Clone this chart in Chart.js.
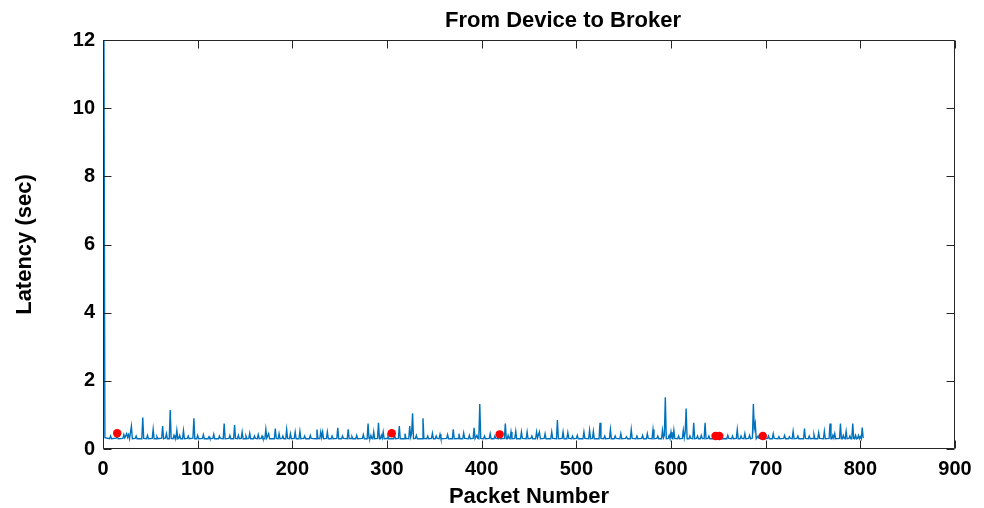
<html>
    <head>
        <meta charset="utf8">
        <title>From Device to Broker</title>
    </head>
    <style>
        body{margin:0;background:#fff}
        #LatencyChart{display:block}
    </style>
    <body>
        <canvas id="LatencyChart" width="984" height="508"></canvas>
    </body>
    <script type="text/javascript" src="https://cdn.jsdelivr.net/npm/chart.js@4.4.1/dist/chart.umd.min.js"></script>
    <script>
        // packet number / latency (sec)
        var packetNo=[1, 2, 7, 8, 9, 14, 15, 16,
            21, 22, 23, 25, 26, 27, 28, 30, 31,
            34, 35, 36, 41, 42, 43, 46, 47, 48,
            52, 53, 54, 56, 57, 58, 62, 63, 64,
            66, 67, 68, 70, 71, 72, 74, 75, 76,
            77, 78, 79, 80, 81, 82, 84, 85, 86,
            89, 90, 91, 95, 96, 97, 99, 100, 101,
            105, 106, 107, 111, 112, 113, 116, 117, 118,
            122, 123, 124, 127, 128, 129, 133, 134, 135,
            138, 139, 140, 142, 143, 144, 146, 147, 148,
            150, 151, 152, 154, 155, 156, 159, 160, 161,
            163, 164, 165, 167, 168, 169, 171, 172, 173, 175, 176,
            181, 182, 183, 185, 186, 187, 189, 190, 191,
            193, 194, 195, 197, 198, 199, 202, 203, 204,
            207, 208, 209, 212, 213, 214, 218, 219, 220,
            225, 226, 227, 229, 230, 231, 232, 233,
            236, 237, 238, 241, 242, 243, 247, 248, 249,
            252, 253, 254, 258, 259, 260, 262, 263, 264,
            267, 268, 269, 274, 275, 276, 279, 280, 281,
            282, 283, 284, 285, 286, 287, 290, 291, 292,
            293, 294, 295, 296, 297, 300, 301, 302,
            307, 308, 309, 312, 313, 314, 318, 319, 320,
            323, 324, 325, 326, 327, 328, 330, 331, 332,
            337, 338, 339, 342, 343, 344, 347, 348, 349,
            351, 352, 353, 355, 356, 357, 363, 364, 365,
            369, 370, 371, 375, 376, 377, 380, 381, 382,
            386, 387, 388, 391, 392, 393, 394, 395, 396,
            397, 398, 399, 402, 403, 404, 408, 409, 410,
            413, 414, 415, 418, 419, 420, 424, 425, 426,
            427, 428, 429, 430, 431, 432, 435, 436, 437,
            441, 442, 443, 447, 448, 449, 452, 453, 454,
            457, 458, 459, 461, 462, 466, 467, 468,
            473, 474, 475, 479, 480, 481, 485, 486, 487,
            490, 491, 492, 495, 496, 497, 500, 501, 502,
            507, 508, 509, 513, 514, 515, 517, 518, 519,
            524, 525, 526, 529, 530, 531, 535, 536, 537,
            540, 541, 542, 546, 547, 548, 552, 553, 554,
            557, 558, 559, 563, 564, 565, 569, 570, 571,
            574, 575, 576, 580, 581, 582, 585, 586, 587,
            590, 591, 592, 593, 594, 595,
            597, 598, 599, 600, 601, 602, 603, 604,
            607, 608, 609, 612, 613, 614, 615, 616, 617,
            619, 620, 621, 623, 624, 625, 627, 628, 629,
            631, 632, 633, 635, 636, 637, 639, 640, 641,
            644, 645, 646, 651, 652, 653, 659, 660, 661,
            664, 665, 666, 669, 670, 671, 673, 674, 675,
            677, 678, 679, 682, 683, 684,
            686, 687, 688, 689, 690, 692, 693,
            697, 698, 699, 702, 703, 704, 707, 708, 709,
            713, 714, 715, 719, 720, 721, 724, 725, 726,
            728, 729, 730, 733, 734, 735, 740, 741, 742,
            745, 746, 747, 750, 751, 752, 755, 756, 757,
            761, 762, 763, 767, 768, 769, 770, 771, 772, 773, 774,
            778, 779, 780, 781, 782, 783, 784, 785, 786,
            788, 789, 790, 791, 792, 793, 794, 795, 796,
            797, 798, 799, 800, 801, 802, 803];
        var latency=[12, 0.33, 0.3, 0.38, 0.3, 0.32, 0.36, 0.3,
            0.31, 0.42, 0.33, 0.45, 0.34, 0.42, 0.3, 0.67, 0.3,
            0.31, 0.38, 0.3, 0.3, 0.92, 0.31, 0.3, 0.4, 0.3,
            0.31, 0.58, 0.3, 0.3, 0.36, 0.3, 0.32, 0.67, 0.3,
            0.32, 0.45, 0.3, 0.3, 1.14, 0.31, 0.3, 0.4, 0.32,
            0.3, 0.55, 0.3, 0.31, 0.4, 0.3, 0.3, 0.54, 0.3,
            0.31, 0.38, 0.3, 0.32, 0.9, 0.3, 0.3, 0.4, 0.3,
            0.31, 0.42, 0.3, 0.3, 0.36, 0.3, 0.31, 0.43, 0.3,
            0.3, 0.38, 0.31, 0.3, 0.75, 0.3, 0.31, 0.4, 0.3,
            0.3, 0.7, 0.31, 0.3, 0.4, 0.3, 0.31, 0.5, 0.3,
            0.3, 0.38, 0.3, 0.31, 0.46, 0.3, 0.3, 0.38, 0.31,
            0.3, 0.42, 0.3, 0.31, 0.38, 0.3, 0.3, 0.58, 0.32, 0.45, 0.3,
            0.3, 0.6, 0.31, 0.3, 0.45, 0.3, 0.31, 0.38, 0.3,
            0.3, 0.57, 0.31, 0.3, 0.45, 0.3, 0.31, 0.5, 0.3,
            0.3, 0.52, 0.3, 0.31, 0.38, 0.3, 0.3, 0.4, 0.31,
            0.3, 0.57, 0.31, 0.3, 0.5, 0.34, 0.5, 0.3,
            0.31, 0.5, 0.3, 0.3, 0.38, 0.3, 0.31, 0.62, 0.3,
            0.3, 0.38, 0.31, 0.3, 0.58, 0.3, 0.31, 0.36, 0.3,
            0.3, 0.4, 0.3, 0.31, 0.42, 0.3, 0.3, 0.75, 0.31,
            0.3, 0.4, 0.31, 0.3, 0.5, 0.3, 0.31, 0.77, 0.3,
            0.3, 0.4, 0.32, 0.5, 0.3, 0.31, 0.38, 0.3,
            0.3, 0.4, 0.3, 0.31, 0.67, 0.3, 0.3, 0.45, 0.31,
            0.3, 0.67, 0.35, 0.45, 1.05, 0.3, 0.31, 0.4, 0.3,
            0.3, 0.9, 0.31, 0.3, 0.38, 0.3, 0.31, 0.46, 0.3,
            0.3, 0.38, 0.31, 0.3, 0.43, 0.3, 0.31, 0.42, 0.3,
            0.3, 0.58, 0.3, 0.31, 0.45, 0.3, 0.3, 0.47, 0.31,
            0.3, 0.4, 0.3, 0.31, 0.62, 0.3, 0.3, 0.4, 0.31,
            0.3, 1.32, 0.31, 0.3, 0.38, 0.3, 0.31, 0.45, 0.3,
            0.3, 0.38, 0.31, 0.3, 0.4, 0.3, 0.31, 0.75, 0.3,
            0.3, 0.4, 0.31, 0.3, 0.5, 0.3, 0.31, 0.52, 0.3,
            0.3, 0.5, 0.31, 0.3, 0.5, 0.3, 0.31, 0.38, 0.3,
            0.3, 0.5, 0.33, 0.5, 0.3, 0.31, 0.45, 0.3,
            0.3, 0.5, 0.31, 0.3, 0.85, 0.3, 0.31, 0.5, 0.3,
            0.3, 0.48, 0.31, 0.3, 0.38, 0.3, 0.31, 0.4, 0.3,
            0.3, 0.5, 0.31, 0.3, 0.55, 0.3, 0.31, 0.52, 0.3,
            0.3, 0.77, 0.31, 0.3, 0.38, 0.3, 0.31, 0.57, 0.3,
            0.3, 0.38, 0.31, 0.3, 0.45, 0.3, 0.31, 0.36, 0.3,
            0.3, 0.57, 0.31, 0.3, 0.38, 0.3, 0.31, 0.4, 0.3,
            0.3, 0.45, 0.31, 0.3, 0.57, 0.3, 0.31, 0.38, 0.3,
            0.3, 0.55, 0.33, 0.4, 1.52, 0.3,
            0.31, 0.4, 0.3, 0.5, 0.32, 0.3, 0.55, 0.31,
            0.3, 0.38, 0.3, 0.31, 0.55, 0.33, 0.5, 1.19, 0.3,
            0.3, 0.38, 0.31, 0.3, 0.77, 0.3, 0.31, 0.38, 0.3,
            0.3, 0.4, 0.31, 0.3, 0.77, 0.3, 0.31, 0.38, 0.3,
            0.3, 0.36, 0.3, 0.31, 0.38, 0.3, 0.3, 0.4, 0.31,
            0.3, 0.38, 0.3, 0.31, 0.57, 0.3, 0.3, 0.38, 0.31,
            0.3, 0.45, 0.3, 0.31, 0.4, 0.3,
            0.32, 1.32, 0.6, 0.75, 0.3, 0.38, 0.31,
            0.3, 0.4, 0.3, 0.31, 0.38, 0.3, 0.3, 0.45, 0.31,
            0.3, 0.36, 0.3, 0.31, 0.4, 0.3, 0.3, 0.36, 0.31,
            0.3, 0.52, 0.3, 0.31, 0.38, 0.3, 0.3, 0.6, 0.31,
            0.3, 0.38, 0.3, 0.31, 0.42, 0.3, 0.3, 0.48, 0.31,
            0.3, 0.52, 0.3, 0.31, 0.75, 0.3, 0.3, 0.4, 0.32, 0.45, 0.3,
            0.31, 0.75, 0.3, 0.3, 0.4, 0.31, 0.3, 0.52, 0.3,
            0.31, 0.38, 0.3, 0.3, 0.75, 0.31, 0.3, 0.4, 0.3,
            0.31, 0.4, 0.3, 0.36, 0.3, 0.63, 0.32];
        // red markers
        var markNo=[15, 305, 419, 647, 651, 697];
        var markLatency=[0.46, 0.46, 0.43, 0.38, 0.38, 0.38];
        var xTicks=[0, 100, 200, 300, 400, 500, 600, 700, 800, 900];
        var yTicks=[0, 2, 4, 6, 8, 10, 12];

        var axisColor="#262626";
        var fontName="'Liberation Sans', Arial, sans-serif";

        var linePts=packetNo.map(function(x,i){ return {x:x, y:latency[i]}; });
        var markPts=markNo.map(function(x,i){ return {x:x, y:markLatency[i]}; });

        // matlab-like box with inward ticks + title
        var boxPlugin={
            id:'boxPlugin',
            afterDraw:function(chart){
                var ctx=chart.ctx, a=chart.chartArea;
                var sx=chart.scales.x, sy=chart.scales.y;
                var L=Math.round(a.left)+0.5, R=Math.round(a.right)-0.5;
                var T=Math.round(a.top)+0.5, B=Math.round(a.bottom)-0.5;
                ctx.save();
                ctx.strokeStyle=axisColor;
                ctx.lineWidth=1;
                ctx.beginPath();
                ctx.rect(L, T, R-L, B-T);
                xTicks.forEach(function(v){
                    var px=Math.round(sx.getPixelForValue(v))+0.5;
                    ctx.moveTo(px, B); ctx.lineTo(px, B-8);
                    ctx.moveTo(px, T); ctx.lineTo(px, T+8);
                });
                yTicks.forEach(function(v){
                    var py=Math.round(sy.getPixelForValue(v))+0.5;
                    ctx.moveTo(L, py); ctx.lineTo(L+8, py);
                    ctx.moveTo(R, py); ctx.lineTo(R-8, py);
                });
                ctx.stroke();
                ctx.fillStyle="#000";
                ctx.font="bold 22px "+fontName;
                ctx.textAlign="center";
                ctx.textBaseline="middle";
                ctx.fillText("From Device to Broker", 563, 21);
                ctx.restore();
            }
        };

        window.onload=function(){
            new Chart(document.getElementById("LatencyChart"), {
                type: 'scatter',
                data: {
                    datasets: [{
                        data: markPts,
                        showLine: false,
                        pointRadius: 4.2,
                        pointBackgroundColor: "#ff0000",
                        pointBorderColor: "#ff0000",
                        pointBorderWidth: 0,
                        order: 0
                    },
                    {
                        data: linePts,
                        showLine: true,
                        borderColor: "#0072bd",
                        borderWidth: 1.4,
                        pointRadius: 0,
                        fill: false,
                        tension: 0,
                        order: 1
                    }]
                },
                options:{
                    responsive: false,
                    animation: false,
                    layout: { padding: { left: 0, right: 29, top: 40, bottom: 0 } },
                    plugins: {
                        legend: { display: false },
                        tooltip: { enabled: false },
                        title: { display: false }
                    },
                    scales: {
                        x: {
                            type: 'linear',
                            min: 0, max: 900,
                            afterFit: function(s){ s.height=59; },
                            afterBuildTicks: function(s){ s.ticks=xTicks.map(function(v){ return {value:v}; }); },
                            grid: { display: false, drawTicks: false },
                            border: { display: false },
                            ticks: { padding: 8, color: "#000", font: { family: fontName, size: 20, weight: 'bold' }, maxRotation: 0 },
                            title: { display: true, text: "Packet Number", color: "#000", padding: { top: 0, bottom: -2 },
                                font: { family: fontName, size: 22, weight: 'bold' } }
                        },
                        y: {
                            type: 'linear',
                            min: 0, max: 12,
                            afterFit: function(s){ s.width=103; },
                            afterBuildTicks: function(s){ s.ticks=yTicks.map(function(v){ return {value:v}; }); },
                            grid: { display: false, drawTicks: false },
                            border: { display: false },
                            ticks: { padding: 8, color: "#000", font: { family: fontName, size: 20, weight: 'bold' } },
                            title: { display: true, text: "Latency (sec)", color: "#000", padding: { top: 12, bottom: 0 },
                                font: { family: fontName, size: 22, weight: 'bold' } }
                        }
                    }
                },
                plugins: [boxPlugin]
            });
        }
    </script>
</html>
